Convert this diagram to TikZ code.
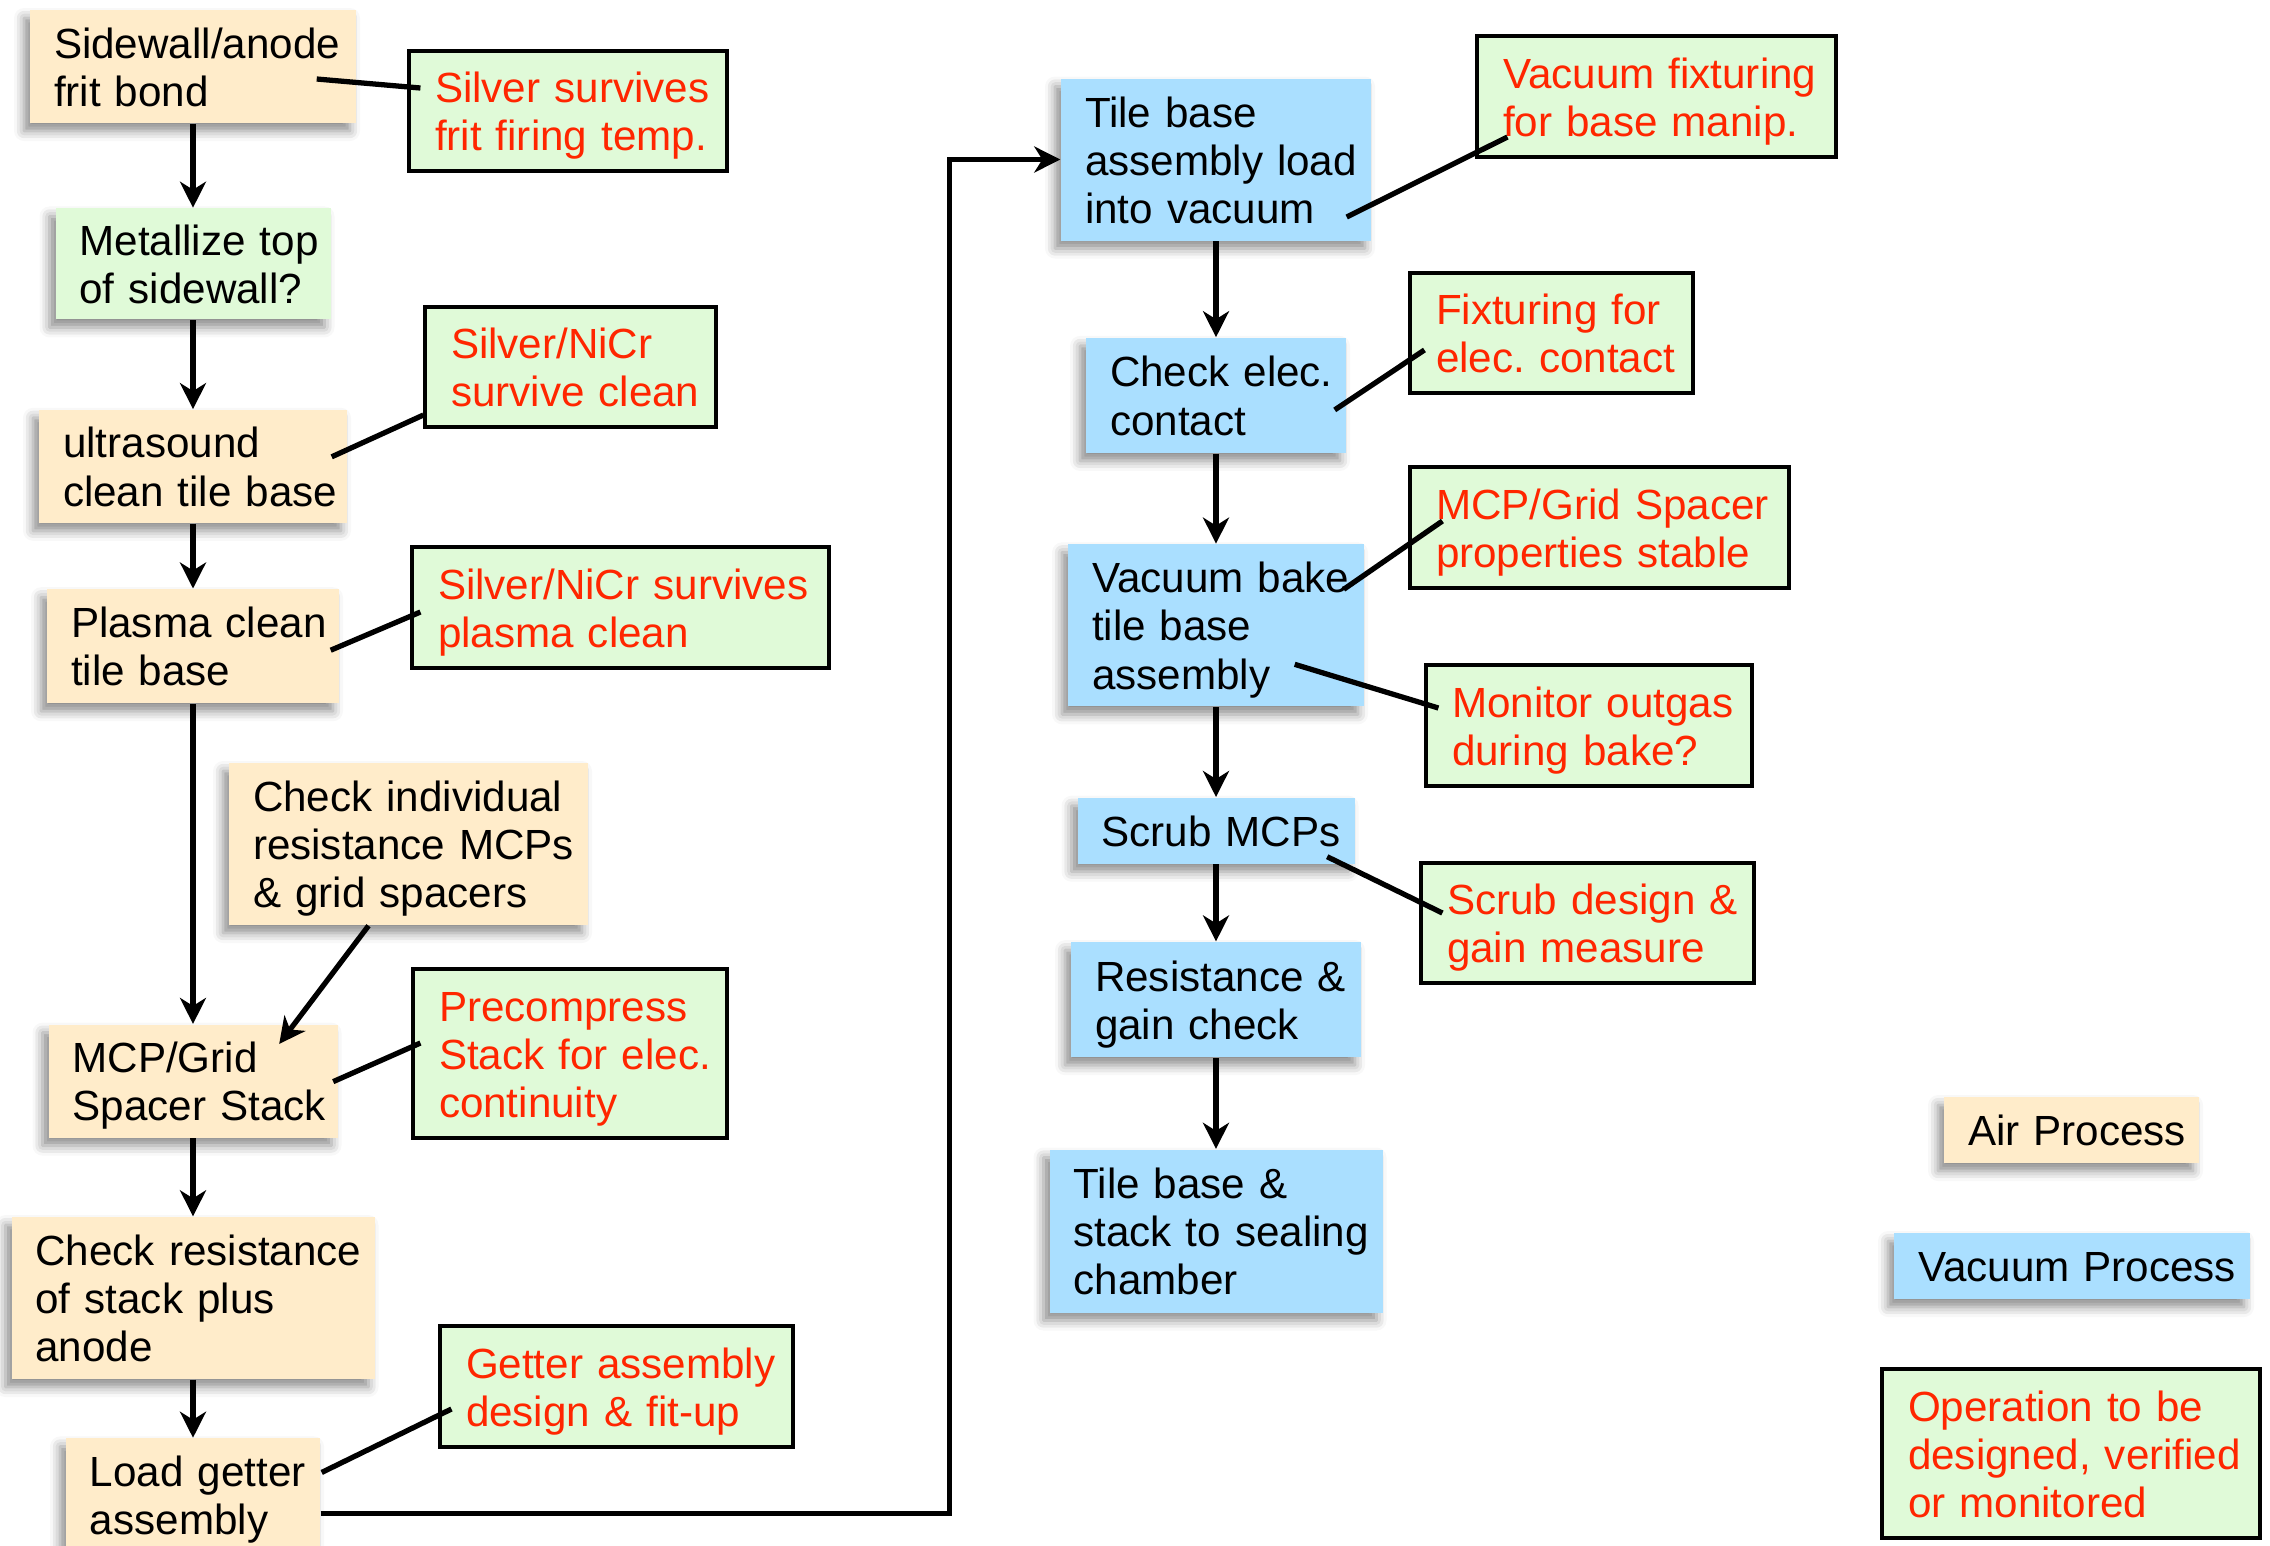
\documentclass[tikz,border=0pt]{standalone}
\usepackage{fontspec}
\setmainfont{Liberation Sans}
\usepackage{tikz}
\usepackage{xcolor}
\usetikzlibrary{positioning}
\usetikzlibrary{arrows.meta}
\usetikzlibrary{shadows.blur}

\definecolor{air-fill}{RGB}{255,236,202}
\definecolor{vac-fill}{RGB}{170,223,255}
\definecolor{note-fill}{RGB}{224,250,216}
\definecolor{note-text}{RGB}{255,38,0}

\begin{document}
\begin{tikzpicture}
[
x=0.1mm, y=-0.1mm,
font=\fontsize{12pt}{13.7pt}\selectfont\frenchspacing,
base-a/.style={rectangle, align=left, inner sep=0pt, execute at begin node={\leftskip=2.4mm\relax\rule{0pt}{13pt}}, execute at end node={\rule[-4.1pt]{0pt}{4.1pt}}},
shad-a/.style={blur shadow={shadow xshift=-0.6mm, shadow yshift=-0.8mm, shadow blur radius=1mm, shadow opacity=45}},
air-a/.style={base-a, shad-a, fill=air-fill},
vac-a/.style={base-a, shad-a, fill=vac-fill},
green-a/.style={base-a, shad-a, fill=note-fill},
note-a/.style={base-a, draw=black, line width=0.9pt, fill=note-fill, text=note-text, execute at begin node={\leftskip=2.6mm\relax\rule{0pt}{13pt}}},
flow-a/.style={line width=1.5pt, -{Stealth[length=2.6mm, width=2.6mm, inset=0.8mm]}},
line-a/.style={line width=1.5pt}
]
\useasboundingbox (0,0) rectangle (2270,1545);

\node (air-1)   [air-a,   text width=32.6mm, minimum height=11.3mm] at (193,66.5)    {Sidewall/anode\\frit bond};
\node (air-2)   [green-a, text width=27.5mm, minimum height=11.1mm, below =  8.4mm of air-1] {Metallize top\\of sidewall?};
\node (air-3)   [air-a,   text width=30.8mm, minimum height=11.3mm, below =  8.9mm of air-2] {ultrasound\\clean tile base};
\node (air-4)   [air-a,   text width=29.2mm, minimum height=11.4mm, below =  6.5mm of air-3] {Plasma clean\\tile base};
\node (air-5)   [air-a,   text width=35.9mm, minimum height=16.2mm] at (408.5,844)   {Check individual\\resistance MCPs\\\& grid spacers};
\node (air-6)   [air-a,   text width=28.9mm, minimum height=11.3mm, below = 32.0mm of air-4] {MCP/Grid\\Spacer Stack};
\node (air-7)   [air-a,   text width=36.3mm, minimum height=16.2mm, below =  7.8mm of air-6] {Check resistance\\of stack plus\\anode};
\node (air-8)   [air-a,   text width=25.4mm, minimum height=11.3mm, below =  5.8mm of air-7] {Load getter\\assembly};

\node (vac-1)   [vac-a,   text width=31.0mm, minimum height=16.2mm] at (1216,159.5)  {Tile base\\assembly load\\into vacuum};
\node (vac-2)   [vac-a,   text width=26.0mm, minimum height=11.5mm, below =  9.6mm of vac-1] {Check elec.\\contact};
\node (vac-3)   [vac-a,   text width=29.6mm, minimum height=16.2mm, below =  9.0mm of vac-2] {Vacuum bake\\tile base\\assembly};
\node (vac-4)   [vac-a,   text width=27.7mm, minimum height=6.6mm,  below =  9.0mm of vac-3] {Scrub MCPs};
\node (vac-5)   [vac-a,   text width=29.0mm, minimum height=11.5mm, below =  7.7mm of vac-4] {Resistance \&\\gain check};
\node (vac-6)   [vac-a,   text width=33.3mm, minimum height=16.3mm, below =  9.1mm of vac-5] {Tile base \&\\stack to sealing\\chamber};

\node (note-1)  [note-a,  text width=31.8mm, minimum height=12.0mm] at (568,111)      {Silver survives\\frit firing temp.};
\node (note-2)  [note-a,  text width=29.1mm, minimum height=12.0mm] at (570.5,367)    {Silver/NiCr\\survive clean};
\node (note-3)  [note-a,  text width=41.7mm, minimum height=12.1mm] at (620.5,607.5)  {Silver/NiCr survives\\plasma clean};
\node (note-4)  [note-a,  text width=31.4mm, minimum height=16.9mm] at (570,1053.5)   {Precompress\\Stack for elec.\\continuity};
\node (note-5)  [note-a,  text width=35.3mm, minimum height=12.1mm] at (616.5,1386.5) {Getter assembly\\design \& fit-up};
\node (note-6)  [note-a,  text width=35.9mm, minimum height=12.1mm] at (1656.5,96.5)  {Vacuum fixturing\\for base manip.};
\node (note-7)  [note-a,  text width=28.3mm, minimum height=12.0mm] at (1551.5,333)   {Fixturing for\\elec. contact};
\node (note-8)  [note-a,  text width=37.9mm, minimum height=12.1mm] at (1599.5,527.5) {MCP/Grid Spacer\\properties stable};
\node (note-9)  [note-a,  text width=32.6mm, minimum height=12.1mm] at (1589,725.5)   {Monitor outgas\\during bake?};
\node (note-10) [note-a,  text width=33.3mm, minimum height=12.0mm] at (1587.5,923)   {Scrub design \&\\gain measure};

\node (key-air) [air-a,   text width=25.5mm, minimum height=6.6mm]  at (2071.5,1130) {Air Process};
\node (key-vac) [vac-a,   text width=35.6mm, minimum height=6.6mm]  at (2072,1266)   {Vacuum Process};
\node (key-op)  [note-a,  text width=37.8mm, minimum height=16.9mm] at (2071,1453.5)  {Operation to be\\designed, verified\\or monitored};

\draw[flow-a] (air-1.south) -- (air-2.north);
\draw[flow-a] (air-2.south) -- (air-3.north);
\draw[flow-a] (air-3.south) -- (air-4.north);
\draw[flow-a] (air-4.south) -- (air-6.north);
\draw[flow-a] ([shift={(-40,0)}]air-5.south) -- ([shift={(-59,20)}]air-6.north east);
\draw[flow-a] (air-6.south) -- (air-7.north);
\draw[flow-a] (air-7.south) -- (air-8.north);
\draw[flow-a] ([shift={(0,18.5)}]air-8.east) -- ++(629,0) |- (vac-1.west);
\draw[flow-a] (vac-1.south) -- (vac-2.north);
\draw[flow-a] (vac-2.south) -- (vac-3.north);
\draw[flow-a] (vac-3.south) -- (vac-4.north);
\draw[flow-a] (vac-4.south) -- (vac-5.north);
\draw[flow-a] (vac-5.south) -- (vac-6.north);

\draw[line-a] ([shift={(-40,12.5)}]air-1.east) -- ([shift={(13,-23)}]note-1.west);
\draw[line-a] ([shift={(-16,-9.5)}]air-3.east) -- ([shift={(0,48)}]note-2.west);
\draw[line-a] ([shift={(-9,4)}]air-4.east)     -- ([shift={(10,4.5)}]note-3.west);
\draw[line-a] ([shift={(-5,0.5)}]air-6.east)   -- ([shift={(9,-10.5)}]note-4.west);
\draw[line-a] ([shift={(1,-22.5)}]air-8.east)  -- ([shift={(13,22.5)}]note-5.west);
\draw[line-a] ([shift={(-25,57.5)}]vac-1.east) -- ([shift={(32,40.5)}]note-6.west);
\draw[line-a] ([shift={(-12,14.5)}]vac-2.east) -- ([shift={(16,17)}]note-7.west);
\draw[line-a] ([shift={(-21,-36)}]vac-3.east)  -- ([shift={(34,-6.5)}]note-8.west);
\draw[line-a] ([shift={(-70,39)}]vac-3.east)   -- ([shift={(14,-17.5)}]note-9.west);
\draw[line-a] ([shift={(-28,26)}]vac-4.east)   -- ([shift={(23,-10)}]note-10.west);
\end{tikzpicture}
\end{document}
